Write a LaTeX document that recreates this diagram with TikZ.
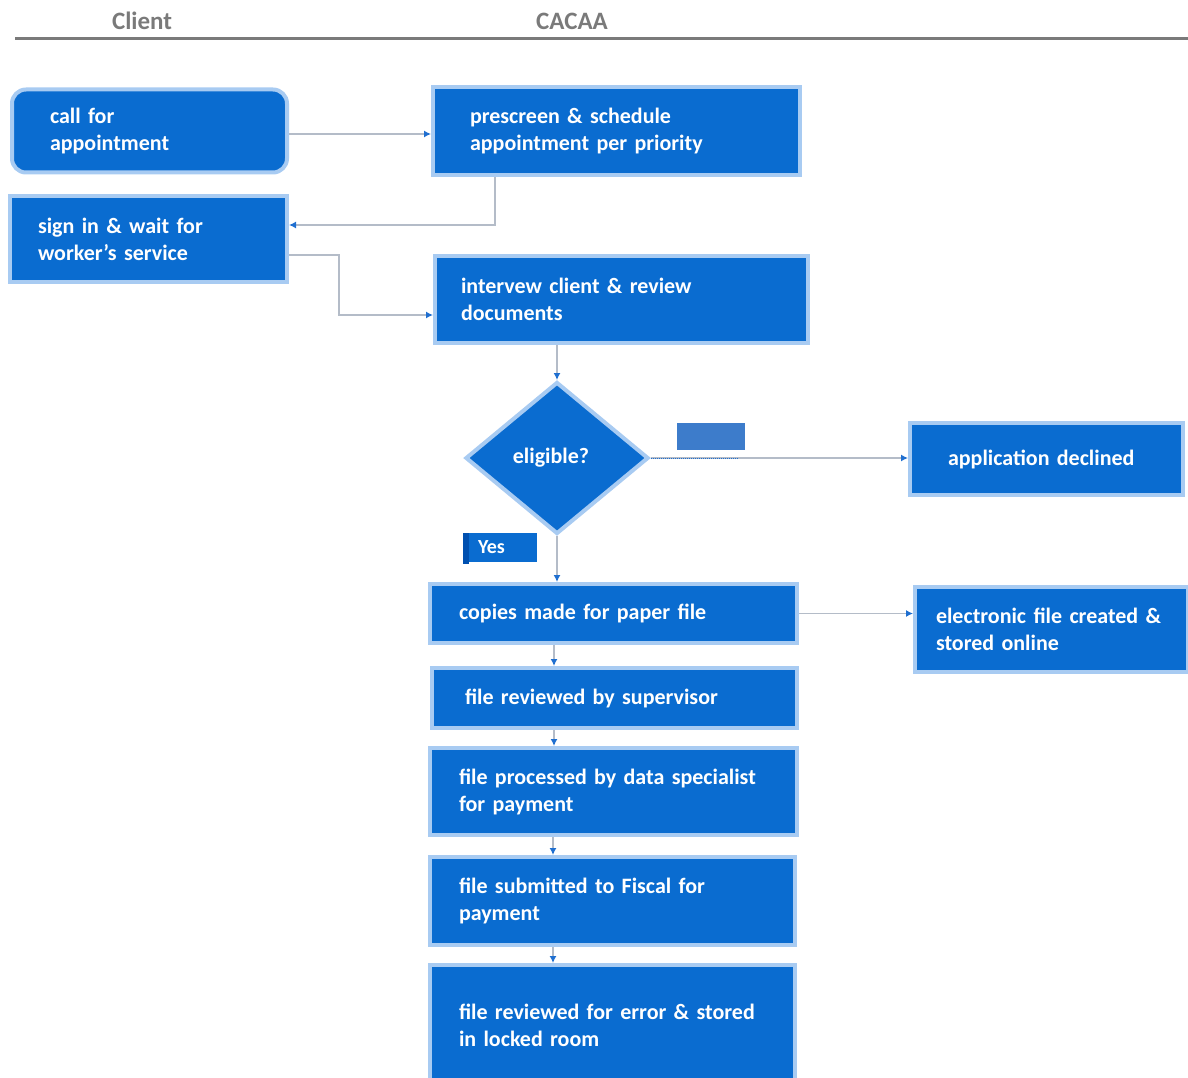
\documentclass[tikz,border=0pt]{standalone}
\usepackage{fontspec}
\setmainfont{Carlito}
\usetikzlibrary{shapes.geometric,arrows.meta,calc}
\definecolor{boxblue}{HTML}{0A6CD0}
\definecolor{glow}{HTML}{A8CBF2}
\definecolor{nobox}{HTML}{3D7CCB}
\definecolor{yesbar}{HTML}{0050B0}
\definecolor{conn}{HTML}{B4BCC8}
\definecolor{tipblue}{HTML}{1F6FD0}
\definecolor{headgray}{HTML}{7A7A7A}
\tikzset{
  box/.style={rectangle, fill=boxblue, draw=glow, line width=4pt, text=white,
    font=\fontsize{22}{27}\selectfont\bfseries, align=left, inner ysep=0pt},
  decision/.style={diamond, fill=boxblue, draw=glow, line width=4pt, text=white,
    font=\fontsize{22}{27}\selectfont\bfseries, inner sep=0pt, aspect=1.2,
    minimum width=183pt, minimum height=152pt},
  head/.style={text=headgray, font=\fontsize{25}{30}\selectfont\bfseries},
  conn/.style={draw=conn, line width=1.3pt, -{Latex[length=7pt,width=7pt,color=tipblue]}},
}
\begin{document}
\begin{tikzpicture}[x=1pt,y=-1pt]
\useasboundingbox (0,0) rectangle (1188,1078);
\clip (0,0) rectangle (1188,1078);
% header
\node[head] (hclient) at (142,21) {Client};
\node[head] (hcacaa) at (572,21) {CACAA};
\draw[headgray, line width=3pt] (15,39) -- (1188,39);

% nodes
\node[box, rounded corners=14pt, minimum height=83pt, text width=199pt, inner xsep=38pt] (call) at (149.5,131) {call for\\appointment};
\node[box, minimum height=88pt, text width=293pt, inner xsep=37pt] (prescreen) at (616.5,131) {prescreen \& schedule\\appointment per priority};
\node[box, minimum height=86pt, text width=221pt, inner xsep=28pt] (sign) at (148.5,239) {sign in \& wait for\\worker's service};
\node[box, minimum height=87pt, text width=321pt, inner xsep=26pt] (interview) at (621.5,299.5) {intervew client \& review\\documents};
\node[decision] (elig) at (557,458) {\hspace*{-12pt}eligible?};
\node[rectangle, fill=nobox, minimum width=68pt, minimum height=27pt, inner sep=0pt] (nolabel) at (711,436.5) {};
\node[box, minimum height=72pt, text width=197pt, inner xsep=38pt] (declined) at (1046.5,459) {application declined};
\node[rectangle, fill=boxblue, minimum height=29pt, text width=44pt, inner xsep=15pt, inner ysep=0pt, align=left, text=white, font=\fontsize{20}{24}\selectfont\bfseries] (yes) at (500,547.5) {Yes};
\fill[yesbar] (yes.north west) rectangle ($(yes.south west)+(6,2)$);
\node[box, minimum height=59pt, text width=309pt, inner xsep=29pt] (copies) at (613.5,613.5) {copies made for paper file};
\node[box, minimum height=85pt, text width=231pt, inner xsep=21pt] (electronic) at (1051.5,629.5) {electronic file created \&\\stored online};
\node[box, minimum height=60pt, text width=299pt, inner xsep=33pt] (supervisor) at (614.5,698) {file reviewed by supervisor};
\node[box, minimum height=87pt, text width=309pt, inner xsep=29pt] (processed) at (613.5,791.5) {file processed by data specialist\\for payment};
\node[box, minimum height=88pt, text width=307pt, inner xsep=29pt] (submitted) at (612.5,901) {file submitted to Fiscal for\\payment};
\node[box, minimum height=120pt, text width=307pt, inner xsep=29pt] (stored) at (612.5,1025) {file reviewed for error \& stored\\in locked room};

% connectors
\draw[conn] ($(call.east)+(0,3)$) -- ($(call.east -| prescreen.west)+(0,3)$);
\draw[conn] ($(prescreen.south west)+(64,0)$) |- ($(sign.north east)+(0,31)$);
\draw[conn] ($(sign.north east)+(0,61)$) -- ++(50,0) |- ($(interview.south west)+(0,-30)$);
\draw[conn] (elig.north |- interview.south) -- (elig.north);
\draw[conn] (elig.east) -- (elig.east -| declined.west);
\draw[tipblue, line width=1pt, densely dotted] (elig.east) -- ($(elig.east)+(88,0)$);
\draw[conn] (elig.south) -- (elig.south |- copies.north);
\draw[conn] (copies.east) -- (copies.east -| electronic.west);
\draw[conn] ($(elig.south |- copies.south)+(-3,0)$) -- ($(elig.south |- supervisor.north)+(-3,0)$);
\draw[conn] ($(elig.south |- supervisor.south)+(-3,0)$) -- ($(elig.south |- processed.north)+(-3,0)$);
\draw[conn] ($(elig.south |- processed.south)+(-4,0)$) -- ($(elig.south |- submitted.north)+(-4,0)$);
\draw[conn] ($(elig.south |- submitted.south)+(-4,0)$) -- ($(elig.south |- stored.north)+(-4,0)$);
\end{tikzpicture}
\end{document}
